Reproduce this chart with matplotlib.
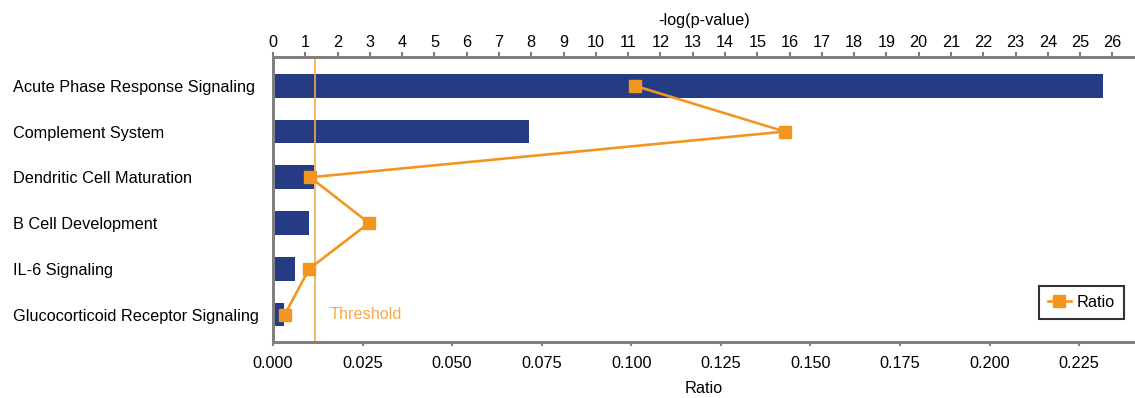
import matplotlib
matplotlib.use('Agg')
import matplotlib.pyplot as plt

plt.rcParams['font.family'] = ['Liberation Sans', 'DejaVu Sans']

# pathways, top to bottom
pathways = ['Acute Phase Response Signaling', 'Complement System',
            'Dendritic Cell Maturation', 'B Cell Development',
            'IL-6 Signaling', 'Glucocorticoid Receptor Signaling']
neg_log_p = [25.7, 7.92, 1.26, 1.11, 0.69, 0.33]
ratio = [0.101, 0.1429, 0.0104, 0.0268, 0.0101, 0.0033]
threshold = 1.3

bar_color = '#253c85'
orange = '#f3961f'
spine_gray = '#808080'
fs = 11.7

fig = plt.figure(figsize=(11.35, 3.98), dpi=100)
ax = fig.add_axes([0.2405, 0.1407, 0.7595, 0.7161])
ax2 = ax.twiny()

y = list(range(len(pathways)))

# bars on -log(p) axis (top)
ax.barh(y, neg_log_p, height=0.52, color=bar_color, zorder=2)
ax.axvline(threshold, color='#f5a94a', lw=1.2, zorder=3)
ax.text(1.75, 5, 'Threshold', color='#f5a94a', fontsize=fs, va='center')
ax.set_xlim(0, 26.7)
ax.set_xticks(range(0, 27))
ax.xaxis.tick_top()
ax.xaxis.set_label_position('top')
ax.set_xlabel('-log(p-value)', fontsize=fs, labelpad=7.5)

ax.set_ylim(5.6, -0.63)
ax.set_yticks(y)
ax.set_yticklabels(pathways, fontsize=fs)
ax.tick_params(axis='y', length=0, pad=187)
for lab in ax.get_yticklabels():
    lab.set_horizontalalignment('left')

# ratio line on bottom axis
ax2.plot(ratio, y, color=orange, lw=1.9, marker='s', markersize=9,
         label='Ratio', zorder=4)
ax2.set_xlim(0, 0.2406)
ax2.set_xticks([0, 0.025, 0.05, 0.075, 0.1, 0.125, 0.15, 0.175, 0.2, 0.225])
ax2.set_xticklabels(['0.000', '0.025', '0.050', '0.075', '0.100', '0.125',
                     '0.150', '0.175', '0.200', '0.225'])
ax2.xaxis.tick_bottom()
ax2.xaxis.set_label_position('bottom')
ax2.set_xlabel('Ratio', fontsize=fs, labelpad=7.5)

for a in (ax, ax2):
    for side in ('top', 'bottom', 'left'):
        a.spines[side].set_color(spine_gray)
        a.spines[side].set_linewidth(2)
    a.spines['right'].set_visible(False)
ax.tick_params(axis='x', colors=spine_gray, labelcolor='black',
               labelsize=fs, length=3.6, width=1.5, pad=1.2)
ax2.tick_params(axis='x', colors=spine_gray, labelcolor='black',
                labelsize=fs, length=3, width=1.5, pad=7)

leg = ax2.legend(loc='lower right', bbox_to_anchor=(0.993, 0.065),
                 fontsize=fs, frameon=True, fancybox=False,
                 handlelength=1.4, borderpad=0.55, handletextpad=0.4,
                 borderaxespad=0.3)
leg.get_frame().set_edgecolor('black')
leg.get_frame().set_linewidth(1.5)

fig.savefig('out.png', dpi=100)
